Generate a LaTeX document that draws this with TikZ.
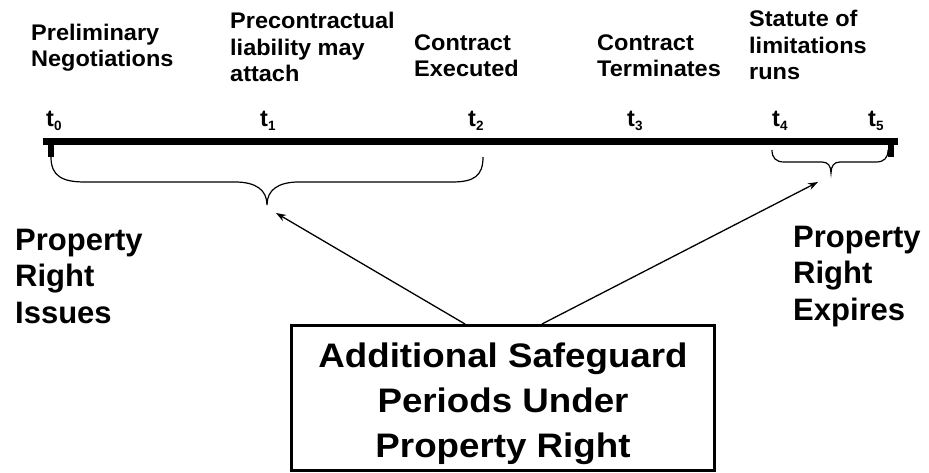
\documentclass[tikz,border=0pt]{standalone}
\usepackage{fontspec}
\setmainfont{Liberation Sans}[BoldFont={Liberation Sans Bold}]
\newfontfamily\boxfont{Liberation Sans Bold}[FakeStretch=1.08]
\newfontfamily\lblfont{Liberation Sans Bold}[FakeStretch=1.04]
\usetikzlibrary{arrows.meta,calc}
\newcommand{\tlab}[1]{t\raisebox{-4pt}{\fontsize{13.5}{13.5}\selectfont #1}}
\tikzset{
  lbl/.style={inner sep=0pt, anchor=base west, align=left, font=\lblfont\fontsize{22.6}{26.5}\selectfont},
  big/.style={inner sep=0pt, anchor=base west, align=left, font=\bfseries\fontsize{31}{36.5}\selectfont},
  tl/.style={inner sep=0pt, anchor=base west, font=\bfseries\fontsize{23.5}{23.5}\selectfont},
  bar/.style={line width=7pt},
  tick/.style={line width=6pt},
  brace/.style={line width=1.2pt},
  arr/.style={line width=1.3pt, -{Stealth[length=10pt,width=7pt]}},
  boxst/.style={draw, line width=3pt, minimum width=423pt, minimum height=145pt, inner sep=0pt},
  boxtxt/.style={inner sep=0pt, align=center, font=\boxfont\fontsize{34}{45}\selectfont}
}
\begin{document}
\begin{tikzpicture}[x=1pt,y=-1pt]
\useasboundingbox (0,0) rectangle (929,473);
% timeline
\coordinate (L) at (43,141.5);
\coordinate (R) at (898,141.5);
\draw[bar] (L) -- (R);
\coordinate (Lt1) at (51,141.5);
\coordinate (Lt2) at (51,157);
\coordinate (Rt1) at (891,141.5);
\coordinate (Rt2) at (891,157);
\draw[tick] (Lt1) -- (Lt2);
\draw[tick] (Rt1) -- (Rt2);
% t labels
\node[tl] (t0) at (46,127) {\tlab{0}};
\node[tl] (t1) at (260,127) {\tlab{1}};
\node[tl] (t2) at (468,127) {\tlab{2}};
\node[tl] (t3) at (627,127) {\tlab{3}};
\node[tl] (t4) at (772,127) {\tlab{4}};
\node[tl] (t5) at (868,127) {\tlab{5}};
% top labels (anchor = baseline of last line)
\node[lbl] (prelim) at (31,67) {Preliminary\\Negotiations};
\node[lbl] (precon) at (230,82) {Precontractual\\liability may\\attach};
\node[lbl] (exec) at (414,77) {Contract\\Executed};
\node[lbl] (term) at (597,77) {Contract\\Terminates};
\node[lbl] (stat) at (749,80) {Statute of\\limitations\\runs};
% braces
\coordinate (b1s) at (51,157);
\coordinate (b1m) at (267,205);
\coordinate (b1e) at (483,157);
\draw[brace] (b1s) .. controls (51,176) and (62,182) .. (85,182) -- (235,182)
  .. controls (256,182) and (267,190) .. (b1m)
  .. controls (267,190) and (278,182) .. (299,182) -- (452,182)
  .. controls (474,182) and (483,176) .. (b1e);
\coordinate (b2s) at (772,150);
\coordinate (b2m) at (831,173);
\coordinate (b2e) at (888,150);
\draw[brace] (b2s) .. controls (772,158) and (776,162) .. (784,162) -- (822,162)
  .. controls (828,162) and (831,166) .. (b2m)
  .. controls (831,166) and (834,162) .. (840,162) -- (876,162)
  .. controls (884,162) and (888,158) .. (b2e);
% side labels
\node[big] (issues) at (15,323) {Property\\Right\\Issues};
\node[big] (expires) at (793,320) {Property\\Right\\Expires};
% box
\node[boxst] (box) at (503,398) {};
\node[boxtxt] (boxtext) at (503,404) {Additional Safeguard\\Periods Under\\Property Right};
% arrows
\coordinate (tipL) at (276,213);
\coordinate (tipR) at (818,182);
\draw[arr] ([xshift=-38pt]box.north) -- (tipL);
\draw[arr] ([xshift=39pt]box.north) -- (tipR);
\end{tikzpicture}
\end{document}
